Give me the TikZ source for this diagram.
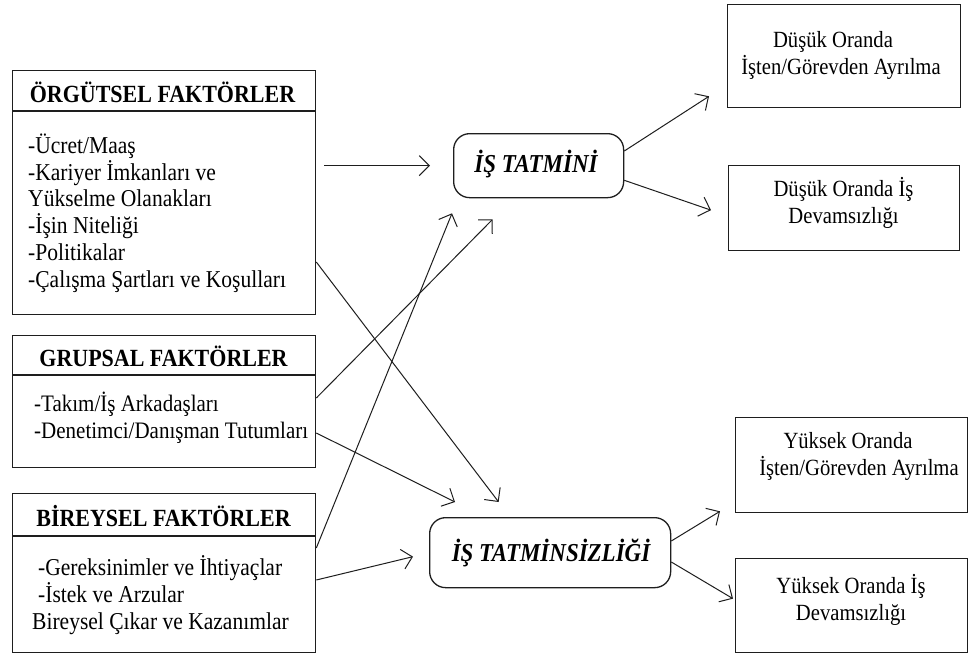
\documentclass[tikz,border=0pt]{standalone}
\usepackage{fontspec}
\setmainfont[FakeStretch=0.89]{Liberation Serif}
\usetikzlibrary{arrows.meta,calc}
\definecolor{ink}{HTML}{1E1E1E}
\begin{document}
\begin{tikzpicture}[x=1pt,y=-1pt,
  frame/.style={draw=ink, line width=1.3pt, rectangle, inner sep=0pt, anchor=north west},
  roundbox/.style={frame, rounded corners=16pt},
  hdr/.style={inner sep=0pt, font=\fontsize{24.7}{28}\selectfont\bfseries},
  body/.style={inner sep=0pt, anchor=west, align=left, font=\fontsize{24.2}{26.8}\selectfont},
  rtext/.style={inner sep=0pt, align=center, font=\fontsize{23.2}{27}\selectfont},
  ctext/.style={inner sep=0pt, font=\fontsize{25.8}{28}\selectfont\bfseries\itshape},
  arr/.style={draw=ink, line width=1pt, -{Straight Barb[length=10pt,width=20pt]}}
]
\useasboundingbox (0,0) rectangle (969,654);
\fill[white] (0,0) rectangle (969,654);

% factor boxes on the left
\node[frame, minimum width=303pt, minimum height=244pt] (org) at (12,70) {};
\node[frame, minimum width=303pt, minimum height=132pt] (grp) at (12,335) {};
\node[frame, minimum width=303pt, minimum height=159pt] (bir) at (12,493) {};
\draw[draw=ink, line width=1.3pt] ([yshift=-41pt]org.north west) -- ([yshift=-41pt]org.north east);
\draw[draw=ink, line width=1.3pt] ([yshift=-40pt]grp.north west) -- ([yshift=-40pt]grp.north east);
\draw[draw=ink, line width=1.3pt] ([yshift=-43pt]bir.north west) -- ([yshift=-43pt]bir.north east);

\node[hdr] (orgH) at (162.5,92) {ÖRGÜTSEL FAKTÖRLER};
\node[hdr] (grpH) at (163.5,356) {GRUPSAL FAKTÖRLER};
\node[hdr] (birH) at (163.5,516) {BİREYSEL FAKTÖRLER};

\node[body] (orgT) at (28,213) {-Ücret/Maaş\\-Kariyer İmkanları ve\\Yükselme Olanakları\\-İşin Niteliği\\-Politikalar\\-Çalışma Şartları ve Koşulları};
\node[body, font=\fontsize{23.6}{26.8}\selectfont] (grpT) at (34,418) {-Takım/İş Arkadaşları\\-Denetimci/Danışman Tutumları};
\node[body] (birT) at (32,595) {\hspace*{6pt}-Gereksinimler ve İhtiyaçlar\\\hspace*{6pt}-İstek ve Arzular\\Bireysel Çıkar ve Kazanımlar};

% satisfaction / dissatisfaction
\node[roundbox, minimum width=170pt, minimum height=64pt] (tat) at (453,133) {};
\node[roundbox, minimum width=241pt, minimum height=70pt] (tats) at (429,517) {};
\node[ctext] (tatT) at (536,164) {İŞ TATMİNİ};
\node[ctext] (tatsT) at (551,553) {İŞ TATMİNSİZLİĞİ};

% outcome boxes on the right
\node[frame, minimum width=233pt, minimum height=103pt] (d1) at (727,4) {};
\node[frame, minimum width=231pt, minimum height=85pt] (d2) at (728,165) {};
\node[frame, minimum width=232pt, minimum height=95pt] (y1) at (735,417) {};
\node[frame, minimum width=232pt, minimum height=94pt] (y2) at (735,558) {};

\node[rtext] (d1T) at (841,55) {Düşük Oranda\hspace*{16pt}\\İşten/Görevden Ayrılma};
\node[rtext] (d2T) at (843.5,203) {Düşük Oranda İş\\Devamsızlığı};
\node[rtext] (y1T) at (852,456) {Yüksek Oranda\hspace*{8pt}\\\hspace*{14pt}İşten/Görevden Ayrılma};
\node[rtext] (y2T) at (851,600) {Yüksek Oranda İş\\Devamsızlığı};

% connectors
\draw[arr, shorten <=8pt, shorten >=23pt] (org.east |- tat.west) -- (tat.west);
\draw[arr] ([yshift=-192pt]org.north east) -- ([xshift=-51.5pt,yshift=15pt]tats.north);
\draw[arr] ([yshift=-63pt]grp.north east) -- ([xshift=-46pt,yshift=-21pt]tat.south);
\draw[arr] ([yshift=-98pt]grp.north east) -- ([xshift=26pt,yshift=15pt]tats.north west);
\draw[arr] ([yshift=-55pt]bir.north east) -- ([xshift=-1pt,yshift=-15pt]tat.south west);
\draw[arr] ([yshift=-87pt]bir.north east) -- ([xshift=-16pt,yshift=-4pt]tats.west);

\draw[arr] ([yshift=-18pt]tat.north east) -- ([xshift=-18pt,yshift=12pt]d1.south west);
\draw[arr] ([yshift=18pt]tat.south east) -- ([xshift=-17pt,yshift=-2pt]d2.west);
\draw[arr] ([yshift=-24pt]tats.north east) -- ([xshift=-15pt,yshift=2pt]y1.south west);
\draw[arr] ([yshift=-45pt]tats.north east) -- ([xshift=-2pt,yshift=7pt]y2.west);
\end{tikzpicture}
\end{document}
